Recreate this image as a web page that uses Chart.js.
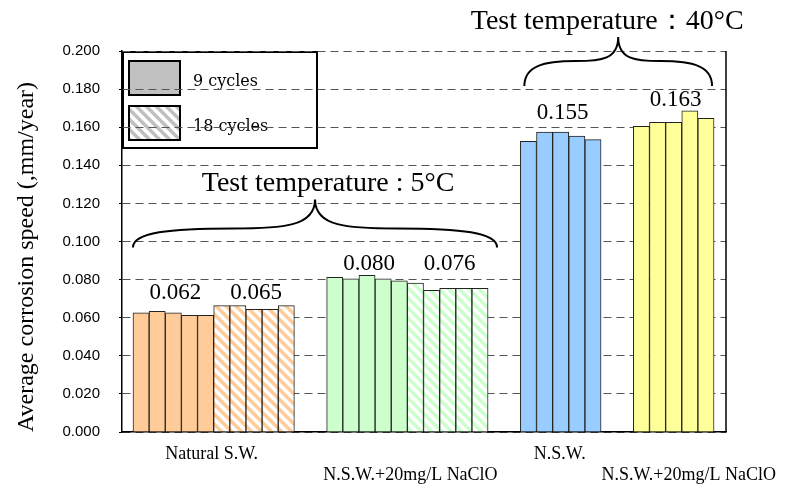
<!DOCTYPE html>
<html>
<head>
<meta charset="utf-8">
<script src="https://cdn.jsdelivr.net/npm/chart.js@4.4.0/dist/chart.umd.min.js"></script>
<style>
    html, body { margin: 0; padding: 0; background: #fff; }
    #wrap { width: 789px; height: 485px; }
</style>
</head>
<body>
<div id="wrap"><canvas id="corrosionChart" width="789" height="485"></canvas></div>
<script>
// corrosion speed of each specimen (mm/year)
const naturalSW9 = [0.0625, 0.0633, 0.0625, 0.0612, 0.0612];
const naturalSW18 = [0.0663, 0.0663, 0.0644, 0.0644, 0.0663];
const naclo5C9 = [0.0812, 0.0804, 0.0823, 0.0804, 0.0793];
const naclo5C18 = [0.0782, 0.0744, 0.0754, 0.0754, 0.0754];
const nsw40C9 = [0.1526, 0.1574, 0.1574, 0.1554, 0.1535];
const naclo40C9 = [0.1605, 0.1625, 0.1625, 0.1686, 0.1646];

const groupNames = ['Natural S.W.', 'N.S.W.+20mg/L NaClO', 'N.S.W.', 'N.S.W.+20mg/L NaClO'];
const groupColors = ['#ffcc99', '#ccffcc', '#99ccff', '#ffff99'];
const groupSeries = [[naturalSW9, naturalSW18], [naclo5C9, naclo5C18], [nsw40C9], [naclo40C9]];
const meanLabels = [[0.062, 0.065], [0.080, 0.076], [0.155], [0.163]];
const legendLabels = ['9 cycles', '18 cycles'];
const tempLabels = ['Test temperature : 5\u00b0C', 'Test temperature\uff1a40\u00b0C'];
const yTitle = 'Average corrosion speed (,mm/year)';

const canvas = document.getElementById('corrosionChart');
const ctx = canvas.getContext('2d');

function hatch(color) {
    const c = document.createElement('canvas');
    c.width = 10;
    c.height = 10;
    const g = c.getContext('2d');
    g.fillStyle = '#fff';
    g.fillRect(0, 0, 10, 10);
    g.strokeStyle = color;
    g.lineWidth = 3.5;
    [-10, 0, 10].forEach(k => {
        g.beginPath();
        g.moveTo(-1, k - 1);
        g.lineTo(11, k + 11);
        g.stroke();
    });
    return ctx.createPattern(c, 'repeat');
}

// lay the bars out in slots, two empty slots between groups
const GAP = 2;
const slotValues = [];
const slotFill = [];
const subgroups = [];
const groups = [];
groupSeries.forEach((series, g) => {
    const gStart = slotValues.length;
    series.forEach((vals, s) => {
        const sStart = slotValues.length;
        const fill = s === 0 ? groupColors[g] : hatch(groupColors[g]);
        vals.forEach(v => {
            slotValues.push(v);
            slotFill.push(fill);
        });
        subgroups.push({ g, from: sStart, to: slotValues.length - 1, label: meanLabels[g][s] });
    });
    groups.push({ from: gStart, to: slotValues.length - 1, name: groupNames[g] });
    if (g < groupSeries.length - 1) {
        for (let i = 0; i < GAP; i++) {
            slotValues.push(null);
            slotFill.push('transparent');
        }
    }
});
const slots = slotValues.map((_, i) => i);

const SERIF = "'Liberation Serif', 'Times New Roman', serif";

function brace(c, x0, x1, yb, ym, yt) {
    const xt = (x0 + x1) / 2;
    c.beginPath();
    let xc = x0 + (xt - x0) * 0.55;
    c.moveTo(x0, yb);
    c.bezierCurveTo(x0, ym + (yb - ym) * 0.2, x0 + (xt - x0) * 0.2, ym, xc, ym);
    c.bezierCurveTo(xc + (xt - xc) * 0.6, ym, xt, ym - 2, xt, yt);
    xc = x1 - (x1 - xt) * 0.55;
    c.moveTo(x1, yb);
    c.bezierCurveTo(x1, ym + (yb - ym) * 0.2, x1 - (x1 - xt) * 0.2, ym, xc, ym);
    c.bezierCurveTo(xc - (xc - xt) * 0.6, ym, xt, ym - 2, xt, yt);
    c.stroke();
    return xt;
}

const annotations = {
    id: 'annotations',
    beforeDraw(chart) {
        // legend box, gridlines are drawn over it
        const c = chart.ctx;
        const { left, top } = chart.chartArea;
        c.save();
        c.lineWidth = 2;
        c.strokeStyle = '#000';
        c.strokeRect(left + 1, top + 1, 194, 96);
        const swatches = [top + 10, top + 55];
        swatches.forEach((sy, i) => {
            c.fillStyle = i === 0 ? '#c0c0c0' : hatch('#c0c0c0');
            c.fillRect(left + 7, sy, 51, 34);
            c.strokeRect(left + 7, sy, 51, 34);
            c.fillStyle = '#000';
            c.font = "16px 'DejaVu Serif', serif";
            c.textAlign = 'left';
            c.textBaseline = 'alphabetic';
            c.fillText(legendLabels[i], left + 71, sy + 25);
        });
        c.restore();
    },
    afterDraw(chart) {
        const c = chart.ctx;
        const x = chart.scales.x;
        const y = chart.scales.y;
        const area = chart.chartArea;
        c.save();

        // right frame
        c.strokeStyle = '#000';
        c.lineWidth = 1.5;
        c.beginPath();
        c.moveTo(area.right, area.top);
        c.lineTo(area.right, area.bottom);
        c.stroke();

        // group names under the axis, staggered
        const nameShift = [-2, 3, -1, 15];
        c.fillStyle = '#000';
        c.font = '18px ' + SERIF;
        c.textAlign = 'center';
        c.textBaseline = 'alphabetic';
        groups.forEach((gr, g) => {
            const cx = x.getPixelForValue((gr.from + gr.to) / 2) + nameShift[g];
            c.fillText(gr.name, cx, area.bottom + (g % 2 === 0 ? 27 : 48));
        });

        // mean values above each set of bars
        const lift = [7, 5, 13, 5];
        c.font = '23px ' + SERIF;
        subgroups.forEach(sg => {
            const gr = groups[sg.g];
            let topPx = Infinity;
            for (let i = gr.from; i <= gr.to; i++) {
                topPx = Math.min(topPx, y.getPixelForValue(slotValues[i]));
            }
            const cx = x.getPixelForValue((sg.from + sg.to) / 2) + 2;
            c.fillText(sg.label.toFixed(3), cx, topPx - lift[sg.g]);
        });

        // temperature braces
        c.lineWidth = 2;
        c.font = '28px ' + SERIF;
        let tip = brace(c,
            x.getPixelForValue(groups[0].from - 0.5), x.getPixelForValue(groups[1].to + 0.5) + 9,
            y.getPixelForValue(0.0968), y.getPixelForValue(0.1068), y.getPixelForValue(0.1221));
        c.fillText(tempLabels[0], tip + 13, y.getPixelForValue(0.1263));
        tip = brace(c,
            x.getPixelForValue(groups[2].from - 0.5) + 4, x.getPixelForValue(groups[3].to + 0.5) - 2,
            y.getPixelForValue(0.1816), y.getPixelForValue(0.1947), y.getPixelForValue(0.2074));
        c.fillText(tempLabels[1], tip - 11, y.getPixelForValue(0.2116));
        c.restore();
    }
};

new Chart(ctx, {
    type: 'bar',
    data: {
        labels: slots,
        datasets: [
            {
                data: slotValues,
                backgroundColor: slotFill,
                borderColor: '#222',
                borderWidth: 1,
                barThickness: 'flex',
                barPercentage: 1,
                categoryPercentage: 1
            }
        ]
    },
    options: {
        responsive: false,
        animation: false,
        layout: { padding: { top: 51, right: 63, left: 0, bottom: 0 } },
        plugins: {
            legend: { display: false },
            tooltip: { enabled: false }
        },
        scales: {
            x: {
                type: 'linear',
                offset: false,
                min: -1.18,
                max: 36.24,
                ticks: { display: false },
                grid: { display: false },
                border: { color: '#000', width: 1.5 },
                afterFit: s => { s.height = 53; }
            },
            y: {
                min: 0,
                max: 0.2,
                ticks: {
                    stepSize: 0.02,
                    padding: 19,
                    color: '#000',
                    font: { family: "'Liberation Sans', Arial, sans-serif", size: 15 },
                    callback: v => v.toFixed(3)
                },
                grid: { color: '#555', lineWidth: 1, tickLength: 3, tickColor: '#000', tickBorderDash: [] },
                border: { color: '#000', width: 1.5, dash: [8, 5] },
                title: {
                    display: true,
                    text: yTitle,
                    align: 'start',
                    color: '#000',
                    font: { family: SERIF, size: 24 },
                    padding: { top: 12, bottom: 0 }
                },
                afterFit: s => { s.width = 122; }
            }
        }
    },
    plugins: [annotations]
});
</script>
</body>
</html>
